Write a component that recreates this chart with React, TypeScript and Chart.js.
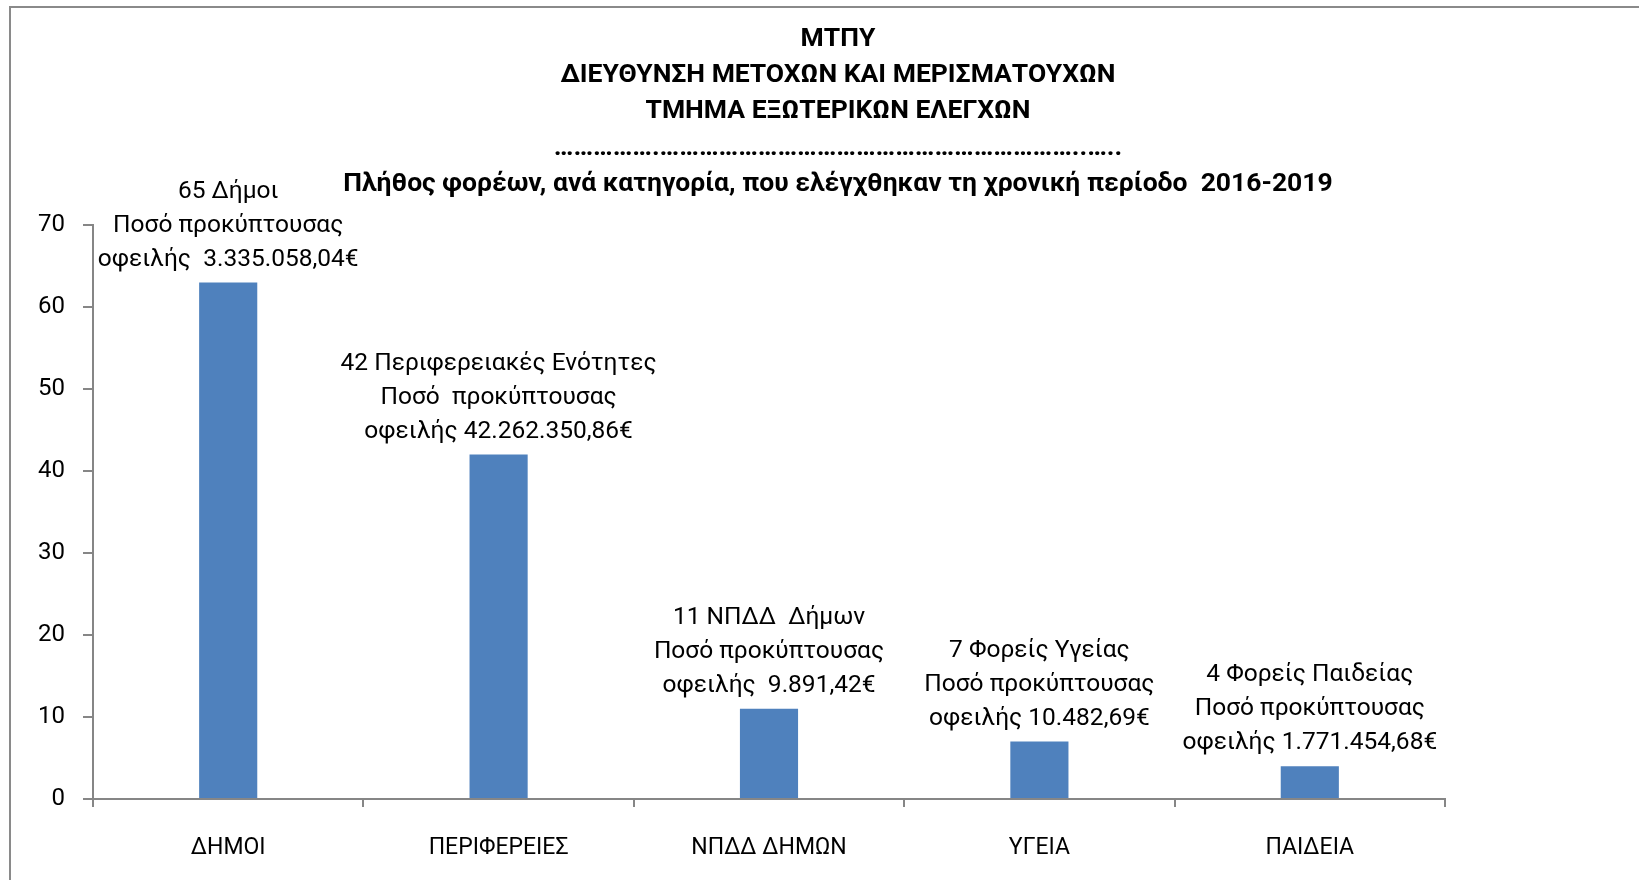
import React, { useEffect, useRef } from "react";
import { Chart, registerables } from "chart.js";

Chart.register(...registerables);

const categories = ["ΔΗΜΟΙ", "ΠΕΡΙΦΕΡΕΙΕΣ", "ΝΠΔΔ ΔΗΜΩΝ", "ΥΓΕΙΑ", "ΠΑΙΔΕΙΑ"];
const counts = [63, 42, 11, 7, 4];
const barLabels = [
  ["65 Δήμοι", "Ποσό προκύπτουσας", "οφειλής  3.335.058,04€"],
  ["42 Περιφερειακές Ενότητες", "Ποσό  προκύπτουσας", "οφειλής 42.262.350,86€"],
  ["11 ΝΠΔΔ  Δήμων", "Ποσό προκύπτουσας", "οφειλής  9.891,42€"],
  ["7 Φορείς Υγείας", "Ποσό προκύπτουσας", "οφειλής 10.482,69€"],
  ["4 Φορείς Παιδείας", "Ποσό προκύπτουσας", "οφειλής 1.771.454,68€"],
];
const titleLines = [
  "ΜΤΠΥ",
  "ΔΙΕΥΘΥΝΣΗ ΜΕΤΟΧΩΝ ΚΑΙ ΜΕΡΙΣΜΑΤΟΥΧΩΝ",
  "ΤΜΗΜΑ ΕΞΩΤΕΡΙΚΩΝ ΕΛΕΓΧΩΝ",
  "…………….………………………………………………………..…..",
  "Πλήθος φορέων, ανά κατηγορία, που ελέγχθηκαν τη χρονική περίοδο  2016-2019",
];
const yMin = 0;
const yMax = 70;
const yStep = 10;

const FONT = "Roboto, 'Noto Sans', sans-serif";
const AXIS = "#868686";

const framePlugin = {
  id: "frame",
  beforeDraw(chart: any) {
    const ctx = chart.ctx;
    ctx.save();
    ctx.fillStyle = "#ffffff";
    ctx.fillRect(0, 0, chart.width, chart.height);
    ctx.strokeStyle = "#8a8a8a";
    ctx.lineWidth = 2;
    ctx.beginPath();
    ctx.moveTo(10, chart.height);
    ctx.lineTo(10, 7);
    ctx.lineTo(chart.width, 7);
    ctx.stroke();
    ctx.restore();
  },
};

const titlePlugin = {
  id: "multiTitle",
  afterDraw(chart: any) {
    const ctx = chart.ctx;
    ctx.save();
    ctx.fillStyle = "#000";
    ctx.textAlign = "center";
    ctx.textBaseline = "middle";
    ctx.font = `bold 26.5px ${FONT}`;
    titleLines.forEach((t, i) => {
      ctx.fillText(t, 838, 39 + i * 36.3);
    });
    ctx.restore();
  },
};

const labelPlugin = {
  id: "barLabels",
  afterDatasetsDraw(chart: any) {
    const ctx = chart.ctx;
    const meta = chart.getDatasetMeta(0);
    ctx.save();
    ctx.fillStyle = "#000";
    ctx.textAlign = "center";
    ctx.textBaseline = "middle";
    ctx.font = `24.5px ${FONT}`;
    meta.data.forEach((bar: any, i: number) => {
      const lines = barLabels[i];
      const lh = 34;
      const lastY = bar.y - 23;
      lines.forEach((ln, j) => {
        ctx.fillText(ln, bar.x, lastY - (lines.length - 1 - j) * lh);
      });
    });
    ctx.restore();
  },
};

export default function App() {
  const ref = useRef<HTMLCanvasElement | null>(null);
  useEffect(() => {
    if (!ref.current) return;
    const chart = new Chart(ref.current, {
      type: "bar",
      data: {
        labels: categories,
        datasets: [
          {
            data: counts,
            backgroundColor: "#4F81BD",
            borderWidth: 0,
            barPercentage: 0.215,
            categoryPercentage: 1,
          },
        ],
      },
      options: {
        animation: false,
        responsive: false,
        devicePixelRatio: 1,
        layout: { padding: { top: 225, right: 194, bottom: 0, left: 0 } },
        plugins: {
          legend: { display: false },
          title: { display: false },
          tooltip: { enabled: false },
        },
        scales: {
          x: {
            grid: {
              display: true,
              drawOnChartArea: false,
              drawTicks: true,
              tickLength: 8,
              color: AXIS,
              lineWidth: 2,
              offset: true,
            },
            border: { display: true, color: AXIS, width: 2 },
            ticks: { color: "#000", font: { family: FONT, size: 23 }, padding: 27 },
            afterFit: (s: any) => {
              s.height = 81;
            },
          },
          y: {
            min: yMin,
            max: yMax,
            grid: {
              display: true,
              drawOnChartArea: false,
              drawTicks: true,
              tickLength: 10,
              color: AXIS,
              lineWidth: 2,
            },
            border: { display: true, color: AXIS, width: 2 },
            ticks: { stepSize: yStep, color: "#000", font: { family: FONT, size: 24 }, padding: 18 },
            afterFit: (s: any) => {
              s.width = 93;
            },
          },
        },
      },
      plugins: [framePlugin, labelPlugin, titlePlugin],
    });
    return () => chart.destroy();
  }, []);
  return (
    <div style={{ position: "fixed", left: 0, top: 0, width: 1639, height: 880, background: "#fff" }}>
      <canvas ref={ref} width={1639} height={880} style={{ display: "block", width: 1639, height: 880 }} />
    </div>
  );
}
